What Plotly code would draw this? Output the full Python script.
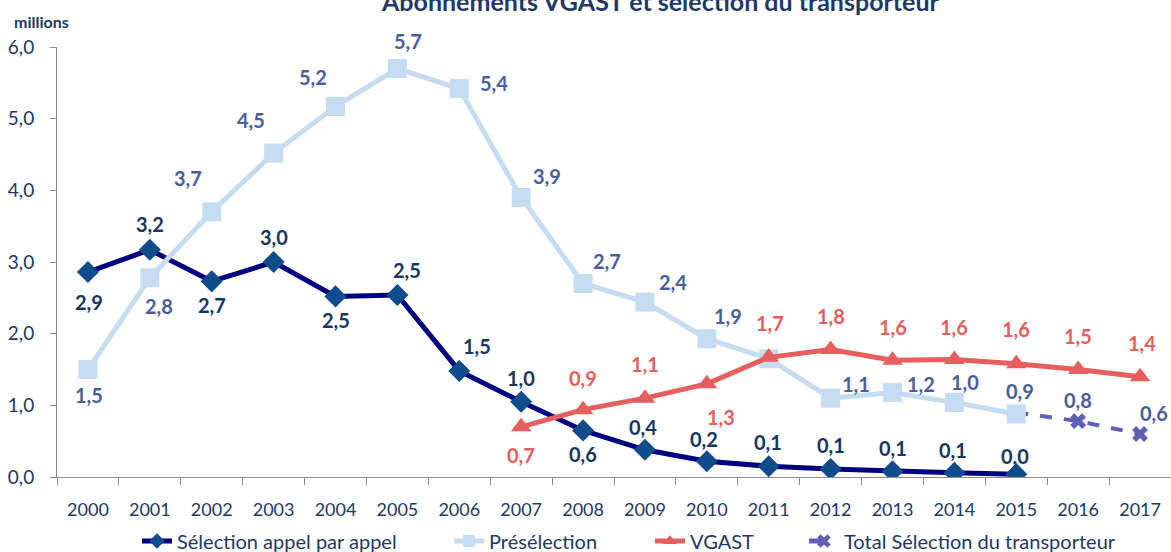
import plotly.graph_objects as go

years = [str(y) for y in range(2000, 2018)]

appel_years = years[:16]
appel = [2.86, 3.17, 2.73, 3.0, 2.52, 2.54, 1.48, 1.05, 0.65, 0.38, 0.22, 0.15, 0.11, 0.08, 0.06, 0.04]
appel_labels = ["2,9", "3,2", "2,7", "3,0", "2,5", "2,5", "1,5", "1,0", "0,6", "0,4", "0,2", "0,1", "0,1", "0,1", "0,1", "0,0"]

presel_years = years[:16]
presel = [1.5, 2.78, 3.7, 4.52, 5.17, 5.7, 5.42, 3.9, 2.7, 2.44, 1.93, 1.65, 1.1, 1.18, 1.04, 0.88]
presel_labels = ["1,5", "2,8", "3,7", "4,5", "5,2", "5,7", "5,4", "3,9", "2,7", "2,4", "1,9", "", "1,1", "1,2", "1,0", "0,9"]

vgast_years = years[7:]
vgast = [0.7, 0.94, 1.1, 1.3, 1.67, 1.78, 1.63, 1.64, 1.58, 1.5, 1.4]
vgast_labels = ["0,7", "0,9", "1,1", "1,3", "1,7", "1,8", "1,6", "1,6", "1,6", "1,5", "1,4"]

total_years = years[15:]
total = [0.9, 0.78, 0.6]
total_labels = ["", "0,8", "0,6"]

# label offsets in pixels (dx, dy), styling only
appel_off = [(1, -30), (0, 26), (0, -24), (0, 25), (0, -24), (10, 25), (18, 25), (0, 24), (0, -24),
             (-2, 23), (-3, 22), (-1, 24), (0, 24), (0, 23), (-1, 23), (-1, 18)]
presel_off = [(1, -25), (9, -28), (-24, 34), (-23, 33), (-23, 29), (11, 28), (35, 6), (26, 22), (24, 23),
              (28, 20), (21, 23), (0, 0), (25, 14), (28, 8), (11, 20), (4, 23)]
vgast_off = [(0, -28), (0, 32), (0, 34), (14, -33), (1, 34), (0, 33), (0, 33), (0, 32), (0, 35), (0, 34), (2, 34)]
total_off = [(0, 0), (0, 21), (14, 21)]

C_APPEL_LINE = "#000080"
C_APPEL_MK = "#0E4C8C"
C_APPEL_TXT = "#17375E"
C_PRESEL = "#C5DCF1"
C_PRESEL_TXT = "#4A5E9E"
C_VGAST = "#E65F5E"
C_TOTAL = "#5F5FB8"
C_AXTXT = "#1F3864"
FONT = "Lato"

fig = go.Figure()
fig.add_trace(go.Scatter(x=total_years, y=total, mode="lines+markers", name="Total Sélection du transporteur",
                         legend="legend4",
                         line=dict(color=C_TOTAL, width=4, dash="dash"),
                         marker=dict(symbol="x", size=14, color=C_TOTAL)))
fig.add_trace(go.Scatter(x=appel_years, y=appel, mode="lines+markers", name="Sélection appel par appel",
                         legend="legend",
                         line=dict(color=C_APPEL_LINE, width=5),
                         marker=dict(symbol="diamond", size=17, color=C_APPEL_MK)))
fig.add_trace(go.Scatter(x=presel_years, y=presel, mode="lines+markers", name="Présélection",
                         legend="legend2",
                         line=dict(color=C_PRESEL, width=5),
                         marker=dict(symbol="square", size=19, color=C_PRESEL)))
fig.add_trace(go.Scatter(x=vgast_years, y=vgast, mode="lines+markers", name="VGAST",
                         legend="legend3",
                         line=dict(color=C_VGAST, width=5),
                         marker=dict(symbol="triangle-up", size=18, color=C_VGAST)))

anns = []
def add_labels(xs, ys, labels, offs, color):
    for x, y, t, (dx, dy) in zip(xs, ys, labels, offs):
        if not t:
            continue
        anns.append(dict(x=years.index(x), y=y, text="<b>%s</b>" % t, showarrow=False, xshift=dx, yshift=dy,
                         font=dict(family=FONT, size=20, color=color)))

add_labels(presel_years, presel, presel_labels, presel_off, C_PRESEL_TXT)
add_labels(appel_years, appel, appel_labels, appel_off, C_APPEL_TXT)
add_labels(vgast_years, vgast, vgast_labels, vgast_off, C_VGAST)
add_labels(total_years, total, total_labels, total_off, C_PRESEL_TXT)

L, T, B = 57, 47, 75
plot_h = 552 - T - B
plot_w = 1171 - L

anns.append(dict(xref="paper", yref="paper", x=(660 - L) / plot_w, y=1 + (T - 18) / plot_h, yanchor="bottom",
                 text="<b>Abonnements VGAST et sélection du transporteur</b>",
                 showarrow=False, font=dict(family=FONT, size=25, color=C_AXTXT)))
anns.append(dict(xref="paper", yref="paper", x=(12 - L) / plot_w, xanchor="left", y=1 + (T - 22) / plot_h,
                 yanchor="middle", text="<b>millions</b>", showarrow=False,
                 font=dict(family=FONT, size=16, color=C_AXTXT)))

def leg(text_start):
    return dict(orientation="h", xref="container", yref="container", x=(text_start - 41) / 1171,
                xanchor="left", y=(552 - 541) / 552, yanchor="middle", itemsizing="constant",
                bgcolor="rgba(0,0,0,0)",
                font=dict(family=FONT, size=20, color=C_AXTXT))

fig.update_layout(
    width=1171, height=552,
    margin=dict(l=L, r=0, t=T, b=B),
    paper_bgcolor="white", plot_bgcolor="white",
    separators=", ",
    font=dict(family=FONT, color=C_AXTXT, size=16),
    showlegend=True,
    legend=leg(178), legend2=leg(490), legend3=leg(691), legend4=leg(845),
    annotations=anns,
)

fig.update_xaxes(type="category", categoryorder="array", categoryarray=years,
                 showgrid=False, showline=True, linecolor="#8C8C8C", linewidth=1,
                 ticks="outside", ticklen=7, tickcolor="#8C8C8C", tickson="boundaries",
                 ticklabelstandoff=16,
                 tickfont=dict(family=FONT, size=18, color=C_AXTXT), range=[-0.5, 17.5])
fig.update_yaxes(range=[0, 6], dtick=1, tickformat=".1f", showgrid=False, showline=True,
                 linecolor="#8C8C8C", linewidth=1, ticks="outside", ticklen=6, tickcolor="#8C8C8C",
                 ticklabelstandoff=12,
                 zeroline=False, tickfont=dict(family=FONT, size=19, color=C_AXTXT))

fig.write_html("out.html", config={"displayModeBar": False},
               post_script="document.body.style.margin='0px';")
